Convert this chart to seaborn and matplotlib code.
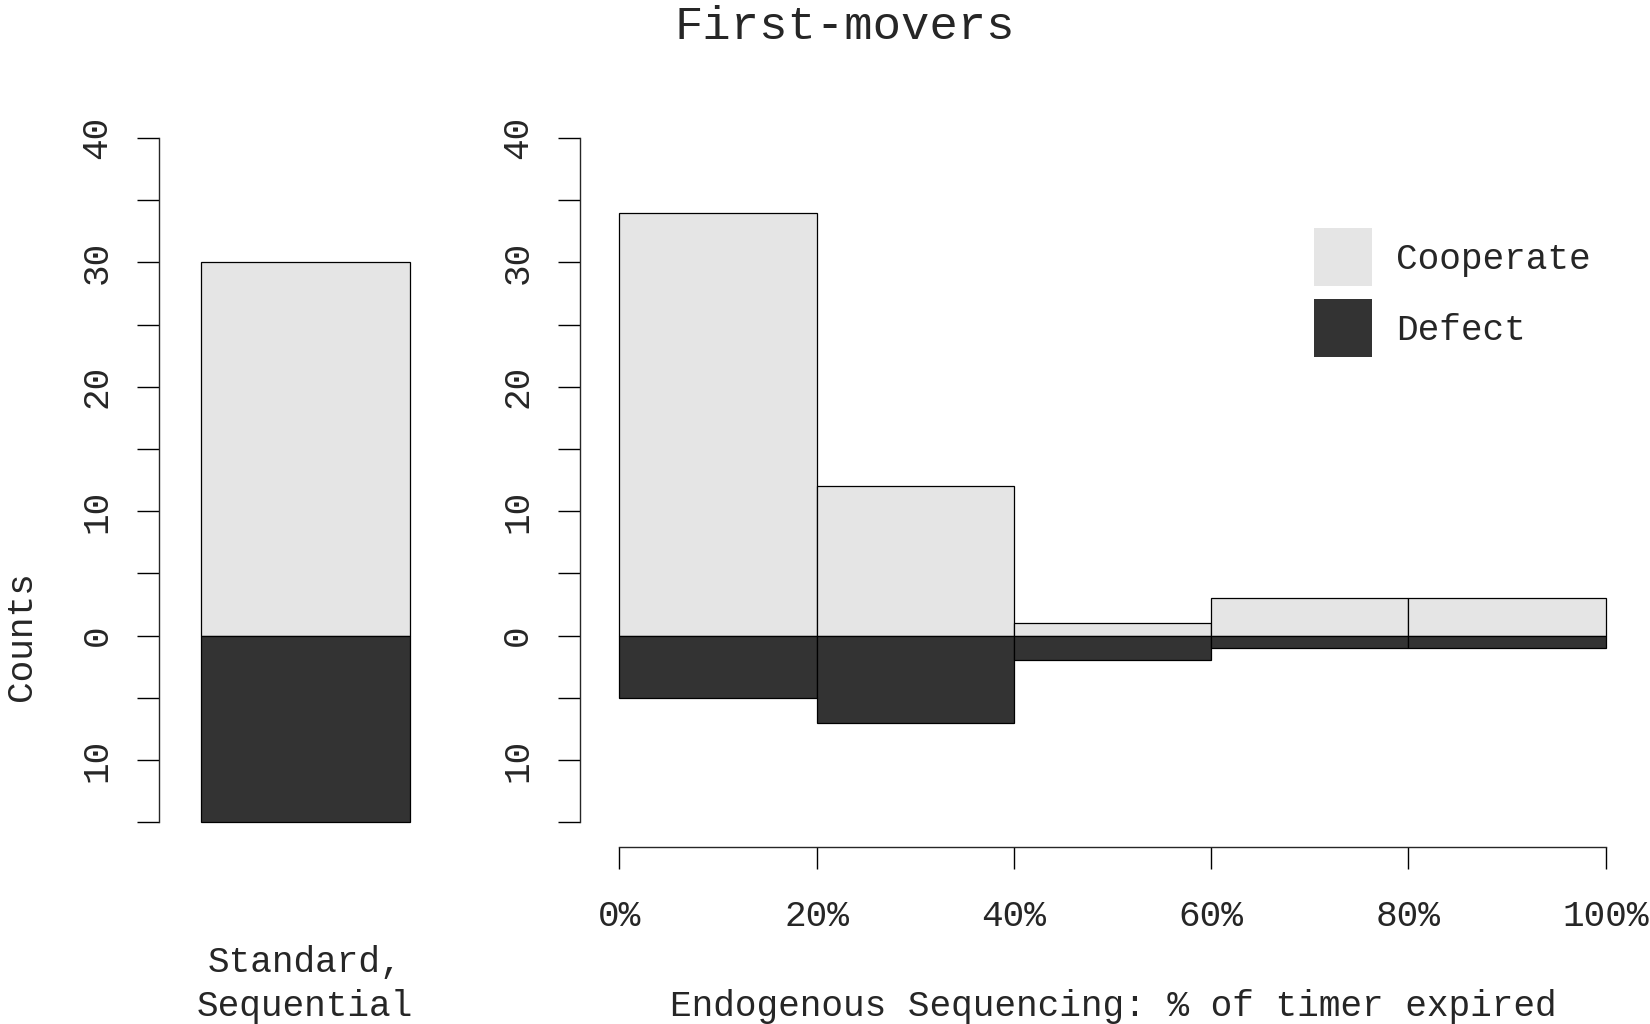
import matplotlib
matplotlib.use("Agg")
import matplotlib.pyplot as plt
from matplotlib.patches import Patch
import seaborn as sns

# data
bin_edges = [0, 20, 40, 60, 80, 100]
bin_mids = [10, 30, 50, 70, 90]
endo_cooperate = [34, 12, 1, 3, 3]
endo_defect = [5, 7, 2, 1, 1]
std_cooperate = [30]
std_defect = [15]
x_tick_labels = ["0%", "20%", "40%", "60%", "80%", "100%"]
y_ticks = [-15, -10, -5, 0, 5, 10, 15, 20, 25, 30, 35, 40]
legend_labels = ["Cooperate", "Defect"]

light = "#e5e5e5"
dark = "#333333"

sns.set_style("white")
plt.rcParams["font.family"] = ["Liberation Mono", "DejaVu Sans"]
plt.rcParams["font.size"] = 26

fig = plt.figure(figsize=(16.5, 10.24), dpi=100)
ax_l = fig.add_axes([0.0963, 0.1703, 0.1777, 0.7218])
ax_r = fig.add_axes([0.3514, 0.1703, 0.6457, 0.7218])

bar_kw = dict(edgecolor="black", linewidth=0.9, alpha=1)

# left panel: standard sequential, a single bar
sns.histplot(x=[0.5], weights=std_cooperate, bins=[0, 1], color=light, ax=ax_l, **bar_kw)
sns.histplot(x=[0.5], weights=[-v for v in std_defect], bins=[0, 1], color=dark, ax=ax_l, **bar_kw)

# right panel: endogenous sequencing histogram
sns.histplot(x=bin_mids, weights=endo_cooperate, bins=bin_edges, color=light, ax=ax_r, **bar_kw)
sns.histplot(x=bin_mids, weights=[-v for v in endo_defect], bins=bin_edges, color=dark, ax=ax_r, **bar_kw)

def ylabels(t):
    return str(abs(t)) if t % 10 == 0 else ""

for ax in (ax_l, ax_r):
    ax.set_ylim(-17.2, 42.2)
    ax.set_yticks(y_ticks)
    ax.set_yticklabels([ylabels(t) for t in y_ticks])
    ax.tick_params(axis="y", left=True, length=16, width=1, pad=16, labelrotation=90,
                   labelsize=26, color="black")
    ax.spines["left"].set_bounds(-15, 40)
    ax.spines["left"].set_linewidth(1)
    for s in ("top", "right"):
        ax.spines[s].set_visible(False)
    ax.set_ylabel("")
    ax.set_xlabel("")
    for lab in ax.get_yticklabels():
        lab.set_va("center")

ax_l.set_xlim(-0.2, 1.2)
ax_l.set_xticks([])
ax_l.spines["bottom"].set_visible(False)

ax_r.set_xlim(-4, 104)
ax_r.set_xticks(bin_edges)
ax_r.set_xticklabels(x_tick_labels)
ax_r.tick_params(axis="x", bottom=True, length=16, width=1, pad=22, labelsize=26, color="black")
ax_r.spines["bottom"].set_position(("data", -16.95))
ax_r.spines["bottom"].set_bounds(0, 100)
ax_r.spines["bottom"].set_linewidth(1)

handles = [Patch(facecolor=light, edgecolor="none"), Patch(facecolor=dark, edgecolor="none")]
ax_r.legend(handles, legend_labels, loc="upper left", bbox_to_anchor=(0.7966, 0.777),
            bbox_transform=fig.transFigure, frameon=False, handlelength=1.6, handleheight=2.1,
            handletextpad=0.67, labelspacing=0.35, borderpad=0, borderaxespad=0, fontsize=26)

fig.text(0.512, 0.974, "First-movers", ha="center", va="center", fontsize=34)
fig.text(0.0128, 0.379, "Counts", ha="center", va="center", rotation=90, fontsize=26)
fig.text(0.185, 0.0382, "Standard,\nSequential", ha="center", va="center", fontsize=26,
         linespacing=1.34)
fig.text(0.675, 0.0175, "Endogenous Sequencing: % of timer expired", ha="center", va="center",
         fontsize=26)

fig.savefig("out.png", dpi=100)
